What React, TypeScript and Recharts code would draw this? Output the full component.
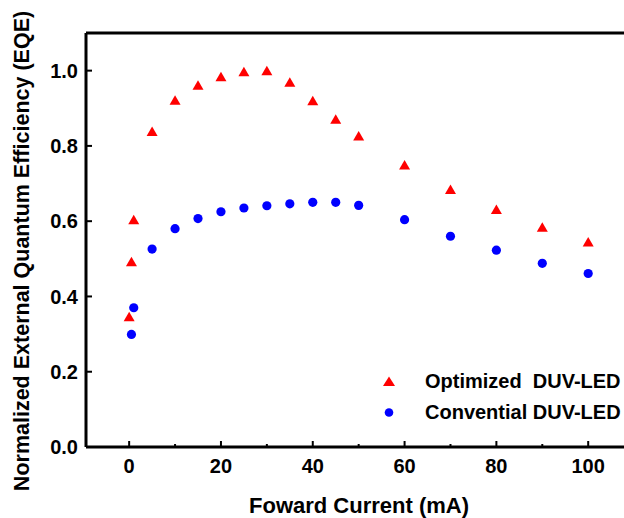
import { ScatterChart, Scatter, XAxis, YAxis, ReferenceLine, Legend } from "recharts";

// Optimized DUV-LED (red triangles)
const optCurrent = [0, 0.5, 1, 5, 10, 15, 20, 25, 30, 35, 40, 45, 50, 60, 70, 80, 90, 100];
const optEqe = [0.346, 0.492, 0.604, 0.838, 0.921, 0.961, 0.984, 0.997, 1.0, 0.969, 0.92, 0.871, 0.826, 0.749, 0.684, 0.631, 0.584, 0.545];

// Convential DUV-LED (blue dots)
const convCurrent = [0.5, 1, 5, 10, 15, 20, 25, 30, 35, 40, 45, 50, 60, 70, 80, 90, 100];
const convEqe = [0.299, 0.37, 0.526, 0.58, 0.607, 0.625, 0.635, 0.641, 0.646, 0.65, 0.65, 0.642, 0.604, 0.56, 0.523, 0.488, 0.461];

const xTicks = [0, 10, 20, 30, 40, 50, 60, 70, 80, 90, 100];
const yTicks = [0, 0.2, 0.4, 0.6, 0.8, 1.0];

const seriesNames = ["Optimized  DUV-LED", "Convential DUV-LED"];
const xTitle = "Foward Current (mA)";
const yTitle = "Normalized External Quantum Efficiency (EQE)";

const RED = "#ff0000";
const BLUE = "#0000ff";
const FONT = "'Liberation Sans', Arial, sans-serif";

const optData = optCurrent.map((x, i) => ({ x, y: optEqe[i] }));
const convData = convCurrent.map((x, i) => ({ x, y: convEqe[i] }));

const X_MARGIN = 12;
const Y_MARGIN = 8;

const XTick = ({ x, y, payload }: any) => {
  const major = payload.value % 20 === 0;
  const axisY = y - X_MARGIN;
  return (
    <g>
      <line x1={x} x2={x} y1={axisY} y2={axisY - (major ? 6 : 3)} stroke="#000" strokeWidth={2} />
      {major && (
        <text x={x} y={y} dy="0.71em" textAnchor="middle" fontFamily={FONT} fontWeight="bold" fontSize={20} fill="#000">
          {payload.value}
        </text>
      )}
    </g>
  );
};

const YTick = ({ x, y, payload }: any) => {
  const axisX = x + Y_MARGIN;
  return (
    <g>
      <line x1={axisX} x2={axisX + 6} y1={y} y2={y} stroke="#000" strokeWidth={2} />
      <text x={x} y={y} dy="0.355em" textAnchor="end" fontFamily={FONT} fontWeight="bold" fontSize={20} fill="#000">
        {Number(payload.value).toFixed(1)}
      </text>
    </g>
  );
};

const Triangle = ({ cx, cy }: any) => (
  <polygon points={`${cx},${cy - 5} ${cx - 5.5},${cy + 4.5} ${cx + 5.5},${cy + 4.5}`} fill={RED} />
);

const Dot = ({ cx, cy }: any) => <circle cx={cx} cy={cy} r={4.6} fill={BLUE} />;

const renderLegend = () => (
  <div style={{ fontFamily: FONT, fontWeight: "bold", fontSize: 20, color: "#000" }}>
    {seriesNames.map((name, i) => (
      <div key={name} style={{ display: "flex", alignItems: "center", height: 31 }}>
        <svg width={28} height={31}>
          {i === 0 ? (
            <polygon points="14,10.5 8,20 20,20" fill={RED} />
          ) : (
            <circle cx={14} cy={15.5} r={4.3} fill={BLUE} />
          )}
        </svg>
        <span style={{ marginLeft: 22, whiteSpace: "pre", lineHeight: "31px" }}>{name}</span>
      </div>
    ))}
  </div>
);

export default function App() {
  return (
    <div style={{ width: 624, height: 518, background: "#fff" }}>
      <style>{`body{margin:0}`}</style>
      <ScatterChart width={624} height={518} margin={{ top: 33, right: 0, bottom: 0, left: 0 }}>
        <XAxis
          type="number"
          dataKey="x"
          domain={[-9.4, 107.8]}
          allowDataOverflow
          ticks={xTicks}
          interval={0}
          tickSize={0}
          tickMargin={X_MARGIN}
          tickLine={false}
          tick={<XTick />}
          axisLine={{ stroke: "#000", strokeWidth: 3 }}
          height={71}
          label={{
            value: xTitle,
            content: ({ viewBox }: any) => (
              <text
                x={viewBox.x + viewBox.width / 2 + 4}
                y={viewBox.y + 66}
                textAnchor="middle"
                fontFamily={FONT}
                fontWeight="bold"
                fontSize={22}
                fill="#000"
              >
                {xTitle}
              </text>
            ),
          }}
        />
        <YAxis
          type="number"
          dataKey="y"
          domain={[0, 1.1]}
          allowDataOverflow
          ticks={yTicks}
          interval={0}
          tickSize={0}
          tickMargin={Y_MARGIN}
          tickLine={false}
          tick={<YTick />}
          axisLine={{ stroke: "#000", strokeWidth: 3 }}
          width={86}
          label={{
            value: yTitle,
            content: ({ viewBox }: any) => {
              const lx = viewBox.x + 21.5;
              const ly = viewBox.y + viewBox.height / 2 + 11;
              return (
                <text
                  x={lx}
                  y={ly}
                  dy="0.355em"
                  transform={`rotate(-90, ${lx}, ${ly})`}
                  textAnchor="middle"
                  fontFamily={FONT}
                  fontWeight="bold"
                  fontSize={21.5}
                  fill="#000"
                >
                  {yTitle}
                </text>
              );
            },
          }}
        />
        <ReferenceLine y={1.1} stroke="#000" strokeWidth={3} />
        <Scatter name={seriesNames[0]} data={optData} shape={<Triangle />} isAnimationActive={false} />
        <Scatter name={seriesNames[1]} data={convData} shape={<Dot />} isAnimationActive={false} />
        <Legend
          layout="vertical"
          align="center"
          verticalAlign="middle"
          content={renderLegend}
          wrapperStyle={{ left: 375, top: 366, width: 260 }}
        />
      </ScatterChart>
    </div>
  );
}
